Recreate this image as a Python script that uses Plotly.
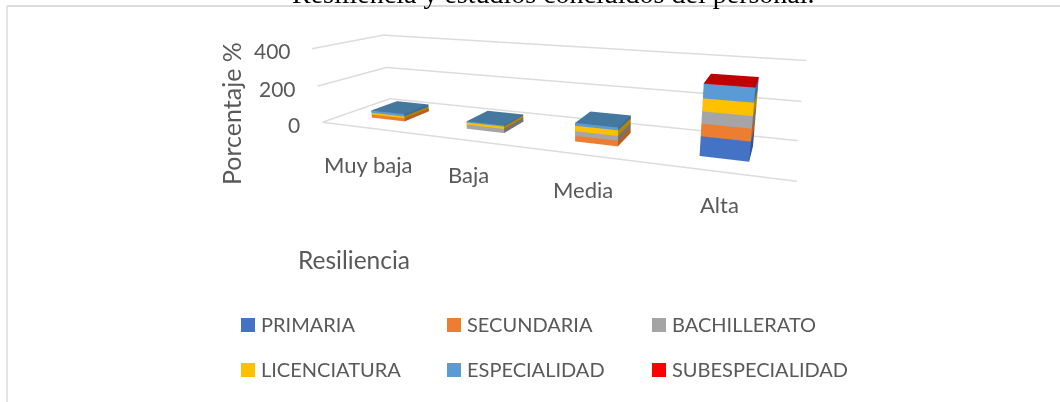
import plotly.graph_objects as go

categories = ['Muy baja', 'Baja', 'Media', 'Alta']
series_names = ['PRIMARIA', 'SECUNDARIA', 'BACHILLERATO', 'LICENCIATURA', 'ESPECIALIDAD', 'SUBESPECIALIDAD']
primaria = [0, 0, 0, 94]
secundaria = [18, 0, 28, 59]
bachillerato = [0, 22, 24, 57]
licenciatura = [10, 12, 28, 60]
especialidad = [13, 6, 14, 66]
subespecialidad = [0, 0, 0, 2]
series_values = [primaria, secundaria, bachillerato, licenciatura, especialidad, subespecialidad]
z_ticks = [0, 200, 400]

legend_colors = ['#4472c4', '#ed7d31', '#a5a5a5', '#ffc000', '#5b9bd5', '#ff0000']
side_colors = ['#2f5597', '#b85f22', '#737373', '#b38600', '#3f6d96', '#a00000']
top_colors = ['#375c9e', '#be6427', '#848484', '#cc9a00', '#44789f', '#c00000']

BAR_WIDTH = 0.36
Y0, Y1 = 0.3, 0.7
WIDTH, HEIGHT = 1060, 402
# the scene's view centre sits high in the picture, so the page is pulled up by SHIFT
SHIFT = 115
SCENE_H = 461
SCENE_LEFT = 140
TEXT_COLOR = '#595959'
GRID_COLOR = '#dcdcdc'
FIG_H = HEIGHT + SHIFT

fig = go.Figure()

# Walls and floor of the 3D box
for tick in z_ticks:
    fig.add_trace(go.Scatter3d(x=[0, 0, 4], y=[0, 1, 1], z=[tick, tick, tick], mode='lines',
                               line=dict(color=GRID_COLOR, width=3), hoverinfo='skip', showlegend=False))
fig.add_trace(go.Scatter3d(x=[0, 4], y=[0, 0], z=[0, 0], mode='lines',
                           line=dict(color=GRID_COLOR, width=3), hoverinfo='skip', showlegend=False))

# Stacked cuboids, one mesh per series
base = [0, 0, 0, 0]
for s, values in enumerate(series_values):
    xs, ys, zs, i, j, k, colors = [], [], [], [], [], [], []
    for c, value in enumerate(values):
        if value == 0:
            continue
        x0 = c + 0.49 - BAR_WIDTH / 2
        x1 = c + 0.49 + BAR_WIDTH / 2
        z0 = base[c]
        z1 = base[c] + value
        n = len(xs)
        xs += [x0, x1, x1, x0, x0, x1, x1, x0]
        ys += [Y0, Y0, Y1, Y1, Y0, Y0, Y1, Y1]
        zs += [z0, z0, z0, z0, z1, z1, z1, z1]
        faces = [
            (0, 1, 5, legend_colors[s]), (0, 5, 4, legend_colors[s]),  # front
            (1, 2, 6, side_colors[s]), (1, 6, 5, side_colors[s]),  # right
            (4, 5, 6, top_colors[s]), (4, 6, 7, top_colors[s]),  # top
            (0, 3, 7, side_colors[s]), (0, 7, 4, side_colors[s]),  # left
            (3, 2, 6, side_colors[s]), (3, 6, 7, side_colors[s]),  # back
            (0, 1, 2, side_colors[s]), (0, 2, 3, side_colors[s]),  # bottom
        ]
        for a, b, d, col in faces:
            i.append(n + a)
            j.append(n + b)
            k.append(n + d)
            colors.append(col)
        base[c] += value
    fig.add_trace(go.Mesh3d(x=xs, y=ys, z=zs, i=i, j=j, k=k, facecolor=colors, flatshading=True,
                            lighting=dict(ambient=1, diffuse=0, specular=0, fresnel=0, roughness=1),
                            name=series_names[s], hoverinfo='name', showlegend=False))


def fy(py):
    return 1 - (py + SHIFT) / FIG_H


def label(text, px, py, size, color=TEXT_COLOR, angle=0, family='Lato', xanchor='center'):
    return dict(text=text, x=px / WIDTH, y=fy(py), xref='paper', yref='paper', showarrow=False,
                xanchor=xanchor, yanchor='middle', textangle=angle, font=dict(family=family, size=size, color=color))


annotations = [
    label('Resiliencia y estudios concluidos del personal.', 553, -7, 28, color='black', family='Liberation Serif'),
    label('Porcentaje %', 231, 114, 25, angle=-90),
    label('Resiliencia', 354, 259, 24.5),
]
tick_pos = [(294, 124), (277.5, 88), (272.5, 50.5)]
for tick, (px, py) in zip(z_ticks, tick_pos):
    annotations.append(label(str(tick), px, py, 21))
cat_pos = [(368, 164), (468, 174), (583, 189), (719, 204)]
for cat, (px, py) in zip(categories, cat_pos):
    annotations.append(label(cat, px, py, 22))

# Legend in three columns and two rows
shapes = [
    dict(type='line', xref='paper', yref='paper', x0=7 / WIDTH, x1=1, y0=fy(6), y1=fy(6),
         line=dict(color=GRID_COLOR, width=2)),
    dict(type='line', xref='paper', yref='paper', x0=7 / WIDTH, x1=7 / WIDTH, y0=0, y1=fy(6),
         line=dict(color=GRID_COLOR, width=1.5)),
]
legend_x = [241, 447, 652]
legend_y = [325, 370]
for n, name in enumerate(series_names):
    lx = legend_x[n % 3]
    ly = legend_y[n // 3]
    shapes.append(dict(type='rect', xref='paper', yref='paper', x0=lx / WIDTH, x1=(lx + 14) / WIDTH,
                       y0=fy(ly + 7), y1=fy(ly - 7), fillcolor=legend_colors[n], line=dict(width=0)))
    annotations.append(label(name, lx + 18, ly - 1, 20, xanchor='left'))

hidden = dict(visible=False, showgrid=False, zeroline=False, showspikes=False, showbackground=False)

fig.update_layout(
    width=WIDTH,
    height=FIG_H,
    margin=dict(l=0, r=0, t=0, b=0),
    paper_bgcolor='white',
    showlegend=False,
    annotations=annotations,
    shapes=shapes,
    scene=dict(
        domain=dict(x=[SCENE_LEFT / WIDTH, 1], y=[1 - SCENE_H / FIG_H, 1]),
        xaxis=dict(range=[0, 4], **hidden),
        yaxis=dict(range=[0, 1], **hidden),
        zaxis=dict(range=[0, 400], **hidden),
        aspectmode='manual',
        aspectratio=dict(x=0.8074, y=0.1807, z=0.1329),
        camera=dict(
            eye=dict(x=0.3793, y=-0.8324, z=0.2251),
            center=dict(x=0.0861, y=0.0189, z=-0.0354),
            up=dict(x=-0.0945, y=0.2614, z=0.9606),
        ),
        bgcolor='white',
    ),
)

fig.write_html(
    "out.html",
    config=dict(displayModeBar=False),
    post_script="document.body.style.margin='0';document.body.style.overflow='hidden';"
                "document.getElementById('{plot_id}').style.marginTop='-%dpx';" % SHIFT,
)
